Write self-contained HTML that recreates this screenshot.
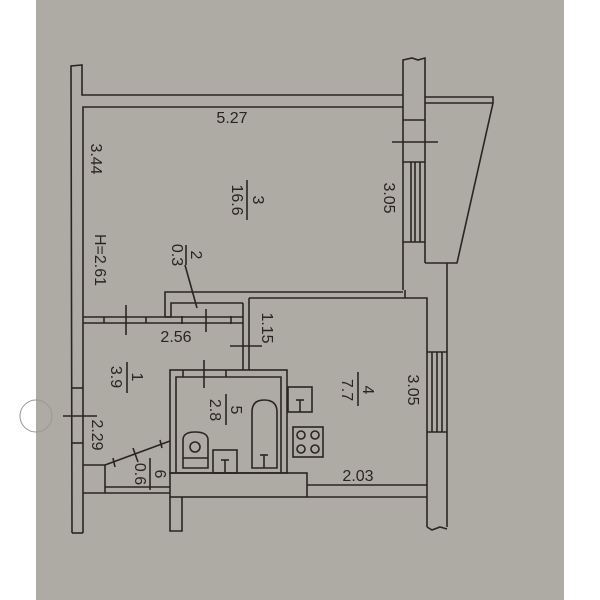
<!DOCTYPE html>
<html><head><meta charset="utf-8"><style>
html,body{margin:0;padding:0;background:#fff;}
svg{display:block;}
text{font-family:"Liberation Sans",sans-serif;font-size:16px;fill:#2a2522;}
</style></head><body>
<svg width="600" height="600" viewBox="0 0 600 600" xmlns="http://www.w3.org/2000/svg">
<rect x="0" y="0" width="600" height="600" fill="#ffffff"/>
<rect x="36" y="0" width="528" height="600" fill="#aeaaa4"/>
<circle cx="36" cy="416" r="16" fill="none" stroke="#9a9690" stroke-width="1"/>
<g fill="none" stroke="#2a2522" stroke-width="1.6">
<polyline points="72,533 71,66 82,65 82,95 403,95"/>
<polyline points="83,533 83,107 403,107"/>
<line x1="72" y1="533" x2="83" y2="533"/>
<polyline points="403,290 403,60 412,58 418,60 425,58 425,263"/>
<line x1="403" y1="120" x2="425" y2="120"/>
<line x1="403" y1="242" x2="425" y2="242"/>
<line x1="411" y1="162" x2="411" y2="242"/>
<line x1="415" y1="162" x2="415" y2="242"/>
<line x1="420" y1="162" x2="420" y2="242"/>
<line x1="403" y1="162" x2="425" y2="162"/>
<line x1="392" y1="142" x2="438" y2="142"/>
<polyline points="425,97 493,97 493,103 457,263 425,263"/>
<line x1="425" y1="103" x2="493" y2="103"/>
<line x1="447" y1="263" x2="447" y2="527"/>
<polyline points="405,290 405,298 427,298 427,527"/>
<line x1="432" y1="352" x2="432" y2="432"/>
<line x1="437" y1="352" x2="437" y2="432"/>
<line x1="442" y1="352" x2="442" y2="432"/>
<line x1="427" y1="352" x2="447" y2="352"/>
<line x1="427" y1="432" x2="447" y2="432"/>
<polyline points="427,527 432,530 440,527 447,529"/>
<polyline points="165,317 165,292 403,292"/>
<polyline points="171,317 171,303 243,303"/>
<line x1="249" y1="298" x2="405" y2="298"/>
<line x1="83" y1="317" x2="171" y2="317"/>
<line x1="83" y1="323" x2="243" y2="323"/>
<line x1="165" y1="317" x2="243" y2="317"/>
<line x1="104" y1="317" x2="104" y2="323"/>
<line x1="146" y1="317" x2="146" y2="323"/>
<line x1="243" y1="303" x2="243" y2="370"/>
<line x1="249" y1="298" x2="249" y2="370"/>
<rect x="170" y="370" width="117" height="103"/>
<polyline points="176,473 176,377 281,377 281,473"/>
<line x1="183" y1="370" x2="183" y2="377"/>
<line x1="226" y1="370" x2="226" y2="377"/>
<rect x="170" y="473" width="137" height="24"/>
<polyline points="307,485 427,485"/>
<polyline points="307,497 427,497"/>
<polyline points="105,487 170,487"/>
<polyline points="105,493 170,493"/>
<polyline points="83,493 105,493 105,465"/>
<polyline points="83,465 105,465"/>
<polyline points="170,497 170,531 182,531 182,497"/>
<line x1="72" y1="388" x2="83" y2="388"/>
<line x1="72" y1="443" x2="83" y2="443"/>
<line x1="63" y1="416" x2="97" y2="416"/>
<line x1="105" y1="465" x2="170" y2="441"/>
<line x1="113" y1="458" x2="115" y2="467"/>
<line x1="133" y1="448" x2="138" y2="462"/>
<line x1="160" y1="440" x2="162" y2="448"/>
<line x1="126" y1="305" x2="126" y2="335"/>
<line x1="206" y1="309" x2="206" y2="332"/>
<line x1="182" y1="316" x2="182" y2="324"/>
<line x1="231" y1="316" x2="231" y2="324"/>
<line x1="230" y1="346" x2="262" y2="346"/>
<line x1="204" y1="360" x2="204" y2="388"/>
<line x1="185" y1="265" x2="197" y2="308"/>
<path d="M183,468 L183,440 Q183,432 195,432 Q208,432 208,440 L208,468 Z"/>
<line x1="183" y1="458" x2="208" y2="458"/>
<circle cx="195" cy="447" r="5"/>
<rect x="213" y="450" width="24" height="23"/>
<line x1="225" y1="460" x2="225" y2="473"/><line x1="221" y1="460" x2="229" y2="460"/>
<path d="M252,468 L252,412 Q252,400 264,400 Q277,400 277,412 L277,468 Z"/>
<line x1="264" y1="455" x2="264" y2="468"/><line x1="260" y1="455" x2="268" y2="455"/>
<rect x="288" y="387" width="24" height="25"/>
<line x1="300" y1="400" x2="300" y2="412"/><line x1="296" y1="400" x2="304" y2="400"/>
<rect x="293" y="427" width="30" height="30"/>
<circle cx="301" cy="435" r="4"/><circle cx="315" cy="435" r="4"/>
<circle cx="301" cy="449" r="4"/><circle cx="315" cy="449" r="4"/>
<line x1="247" y1="180" x2="247" y2="220"/>
<line x1="186" y1="245" x2="186" y2="265"/>
<line x1="127" y1="362" x2="127" y2="393"/>
<line x1="226" y1="394" x2="226" y2="425"/>
<line x1="358" y1="372" x2="358" y2="406"/>
<line x1="150" y1="458" x2="150" y2="490"/>
</g>
<text x="232" y="123" text-anchor="middle">5.27</text>
<text x="176" y="342" text-anchor="middle">2.56</text>
<text x="358" y="481" text-anchor="middle">2.03</text>
<g text-anchor="middle">
<text transform="translate(91,159) rotate(90)">3.44</text>
<text transform="translate(95,260) rotate(90)">H=2.61</text>
<text transform="translate(232,200) rotate(90)">16.6</text>
<text transform="translate(253,200) rotate(90)">3</text>
<text transform="translate(172,255) rotate(90)">0.3</text>
<text transform="translate(191,255) rotate(90)">2</text>
<text transform="translate(384,198) rotate(90)">3.05</text>
<text transform="translate(262,328) rotate(90)">1.15</text>
<text transform="translate(111,377) rotate(90)">3.9</text>
<text transform="translate(132,377) rotate(90)">1</text>
<text transform="translate(210,410) rotate(90)">2.8</text>
<text transform="translate(231,410) rotate(90)">5</text>
<text transform="translate(342,390) rotate(90)">7.7</text>
<text transform="translate(363,390) rotate(90)">4</text>
<text transform="translate(408,390) rotate(90)">3.05</text>
<text transform="translate(92,435) rotate(90)">2.29</text>
<text transform="translate(135,474) rotate(90)">0.6</text>
<text transform="translate(155,474) rotate(90)">6</text>
</g>
</svg>
</body></html>
